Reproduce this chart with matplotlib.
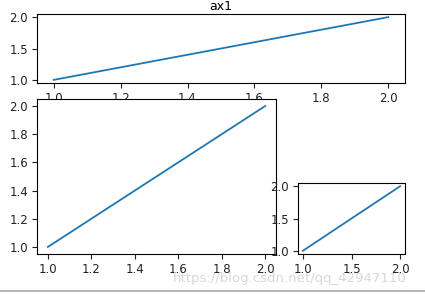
import matplotlib
matplotlib.use("Agg")
import matplotlib.pyplot as plt
from matplotlib.lines import Line2D

x = [1, 2]
y = [1, 2]
title1 = "ax1"
watermark = "https://blog.csdn.net/qq_42947110"

W, H = 425, 294
plt.rcParams['font.size'] = 8.5
fig = plt.figure(figsize=(W / 100, H / 100), dpi=100)

def box(l, t, r, b):
    return [l / W, 1 - b / H, (r - l) / W, (b - t) / H]

ax1 = fig.add_axes(box(37, 14, 405, 83))
ax2 = fig.add_axes(box(37, 99, 276, 254))
ax3 = fig.add_axes(box(298, 183, 405, 254))

for ax in (ax1, ax2, ax3):
    ax.plot(x, y, color='#1f77b4', linewidth=1.3)
    ax.tick_params(length=3.5, width=0.8, pad=3, labelsize=8.5, colors='#222222')
    for s in ax.spines.values():
        s.set_linewidth(0.8)

ax1.set_title(title1, fontsize=9, pad=3)
ax1.set_yticks([1.0, 1.5, 2.0])
ax3.set_xticks([1.0, 1.5, 2.0])
ax3.set_yticks([1.0, 1.5, 2.0])

fig.text(173 / W, 1 - 282 / H, watermark, fontsize=9.5, color='#d8d8d8',
         ha='left', va='baseline')
fig.add_artist(Line2D([0, 1], [1 - 291 / H, 1 - 291 / H], transform=fig.transFigure,
                      color='#a8a8a8', linewidth=1.2))

fig.savefig("out.png", dpi=100)
